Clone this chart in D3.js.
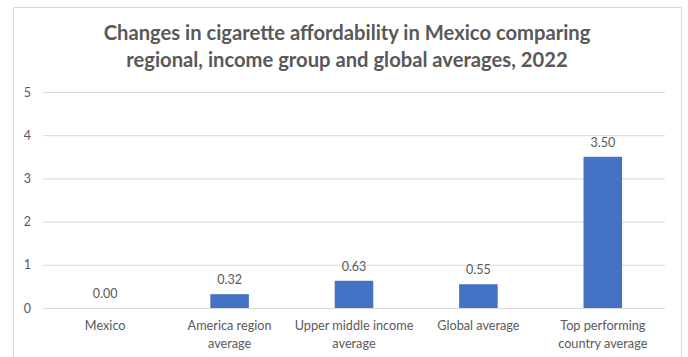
<!DOCTYPE html>
<html>
<head>
<meta charset="utf-8">
<script src="https://cdn.jsdelivr.net/npm/d3@7"></script>
<style>
  body { margin: 0; background: #fff; }
  text { font-family: Lato, "Open Sans", sans-serif; fill: #595959; }
</style>
</head>
<body>
<svg id="chart" width="688" height="357"></svg>
<script>
// data
const categories = ["Mexico", "America region average", "Upper middle income average", "Global average", "Top performing country average"]
const categoryLines = [["Mexico"], ["America region", "average"], ["Upper middle income", "average"], ["Global average"], ["Top performing", "country average"]]
const values = [0.00, 0.32, 0.63, 0.55, 3.50]
const yTicks = [0, 1, 2, 3, 4, 5]
const titleLines = ["Changes in cigarette affordability in Mexico comparing", "regional, income group and global averages, 2022"]

var svg = d3.select("#chart")

// chart frame
svg.append("rect")
    .attr("x", 13.5).attr("y", 7.5)
    .attr("width", 668).attr("height", 360)
    .attr("fill", "#fff")
    .attr("stroke", "#d9d9d9")

var margin = {top: 92, left: 43, right: 665, bottom: 308}

var x = d3.scaleBand()
    .domain(categories)
    .range([margin.left, margin.right])
    .paddingInner(0.69)
    .paddingOuter(0.345)

var y = d3.scaleLinear()
    .domain([0, 5])
    .range([margin.bottom, margin.top])

// gridlines
svg.append("g")
    .selectAll("line")
    .data(yTicks)
    .enter()
    .append("line")
    .attr("x1", margin.left)
    .attr("x2", margin.right)
    .attr("y1", d => y(d) + 0.5)
    .attr("y2", d => y(d) + 0.5)
    .attr("stroke", "#d9d9d9")
    .attr("stroke-width", 1)

// y axis labels
var yAxis = svg.append("g")
    .attr("transform", "translate(31,0)")
    .call(d3.axisLeft(y).tickValues(yTicks).tickFormat(d3.format("d")).tickSize(0).tickPadding(0))
yAxis.select(".domain").remove()
yAxis.selectAll("text")
    .attr("font-size", 12.5)
    .attr("font-family", "Lato, sans-serif")
    .attr("fill", "#595959")

// bars
svg.append("g")
    .selectAll("rect")
    .data(values)
    .enter()
    .append("rect")
    .attr("x", (d, i) => x(categories[i]))
    .attr("y", d => y(d))
    .attr("width", x.bandwidth())
    .attr("height", d => y(0) - y(d))
    .attr("fill", "#4472c4")

// value labels
svg.append("g")
    .selectAll("text")
    .data(values)
    .enter()
    .append("text")
    .attr("x", (d, i) => x(categories[i]) + x.bandwidth() / 2)
    .attr("y", d => y(d) - 10)
    .attr("text-anchor", "middle")
    .attr("font-size", 12.5)
    .text(d => d.toFixed(2))

// x axis category labels
var xLabels = svg.append("g")
    .selectAll("text")
    .data(categoryLines)
    .enter()
    .append("text")
    .attr("x", (d, i) => x(categories[i]) + x.bandwidth() / 2)
    .attr("y", 330)
    .attr("text-anchor", "middle")
    .attr("font-size", 12.7)
xLabels.selectAll("tspan")
    .data((d, i) => d.map(t => ({t: t, i: i})))
    .enter()
    .append("tspan")
    .attr("x", d => x(categories[d.i]) + x.bandwidth() / 2)
    .attr("dy", (d, j) => j === 0 ? 0 : 18)
    .text(d => d.t)

// title
svg.append("text")
    .attr("x", 347)
    .attr("y", 40)
    .attr("text-anchor", "middle")
    .attr("font-size", 20.2)
    .attr("font-weight", "bold")
    .selectAll("tspan")
    .data(titleLines)
    .enter()
    .append("tspan")
    .attr("x", 347)
    .attr("dy", (d, i) => i === 0 ? 0 : 27)
    .text(d => d)
</script>
</body>
</html>
